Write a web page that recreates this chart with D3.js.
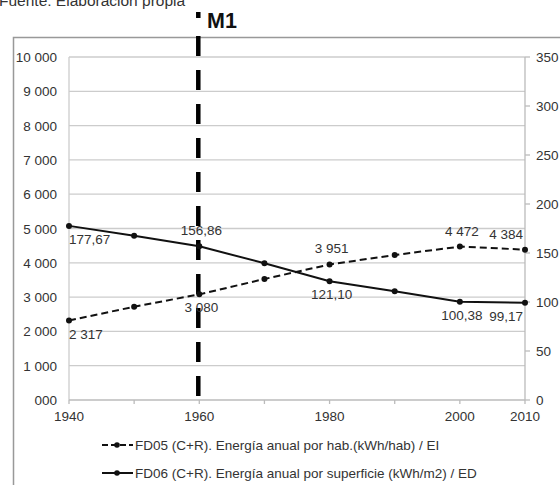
<!DOCTYPE html>
<html>
<head>
<meta charset="utf-8">
<script src="https://cdn.jsdelivr.net/npm/d3@7"></script>
<style>
	body{ margin:0; background:#fff; }
	svg text{ font-family:"Liberation Sans",Arial,sans-serif; }
</style>
</head>
<body>
<div id="chart"></div>
<script>
// data
var years = [1940,1950,1960,1970,1980,1990,2000,2010];
var fd05 = [2317,2720,3080,3528,3951,4227,4472,4384];
var fd06 = [177.67,167.6,156.86,139.5,121.10,110.9,100.38,99.17];
var fd05Labels = [[1940,'2 317','below'],[1960,'3 080','below'],[1980,'3 951','above'],[2000,'4 472','above'],[2010,'4 384','above']];
var fd06Labels = [[1940,'177,67','below'],[1960,'156,86','above'],[1980,'121,10','below'],[2000,'100,38','below'],[2010,'99,17','below']];
var leftTicks = [0,1000,2000,3000,4000,5000,6000,7000,8000,9000,10000];
var rightTicks = [0,50,100,150,200,250,300,350];
var xLabels = [1940,1960,1980,2000,2010];
var xMinor = [1950,1970,1990];
var markerYear = 1960;
var legendNames = [
	'FD05 (C+R). Energía anual por hab.(kWh/hab) / EI'
	,'FD06 (C+R). Energía anual por superficie (kWh/m2) / ED'
];

var W = 560, H = 485;
var FS = 13.5;
var svg = d3.select('#chart').append('svg')
	.attr('width',W)
	.attr('height',H);

var x = d3.scaleLinear().domain([1940,2010]).range([69,525]);
var yL = d3.scaleLinear().domain([0,10000]).range([400,57]);
var yR = d3.scaleLinear().domain([0,350]).range([400,57]);

function fmt(v){
	var s = String(v);
	if( v >= 1000 ) s = s.slice(0,s.length-3)+' '+s.slice(-3);
	if( v === 0 ) s = '000';
	return s;
};

// source line (cut at top, as in the picture)
svg.append('text')
	.attr('x',-1).attr('y',6)
	.attr('font-size',15.5).attr('fill','#333')
	.text('Fuente: Elaboración propia');

// frame
svg.append('path')
	.attr('d','M13.5,'+H+'V37.5H'+W)
	.attr('fill','none')
	.attr('stroke','#999')
	.attr('stroke-width',1.5);

// gridlines
svg.append('g').selectAll('line')
	.data(leftTicks.filter(function(d){ return d>0; }))
	.enter().append('line')
	.attr('x1',x(1940)).attr('x2',x(2010))
	.attr('y1',function(d){ return yL(d); })
	.attr('y2',function(d){ return yL(d); })
	.attr('stroke','#ccc').attr('stroke-width',1.3);

// axes lines
svg.append('line').attr('x1',x(1940)).attr('x2',x(1940)).attr('y1',yL(10000)).attr('y2',yL(0))
	.attr('stroke','#ccc').attr('stroke-width',1.3);
svg.append('line').attr('x1',x(2010)).attr('x2',x(2010)).attr('y1',yR(350)).attr('y2',yR(0))
	.attr('stroke','#bbb').attr('stroke-width',1.3);
svg.append('line').attr('x1',x(1940)).attr('x2',x(2010)).attr('y1',yL(0)).attr('y2',yL(0))
	.attr('stroke','#bbb').attr('stroke-width',1.3);

// left labels
svg.append('g').selectAll('text')
	.data(leftTicks)
	.enter().append('text')
	.attr('x',57)
	.attr('y',function(d){ return yL(d)+5; })
	.attr('text-anchor','end')
	.attr('font-size',FS).attr('fill','#333')
	.text(fmt);

// right ticks + labels
var rg = svg.append('g');
rg.selectAll('line').data(rightTicks).enter().append('line')
	.attr('x1',x(2010)).attr('x2',x(2010)+5)
	.attr('y1',function(d){ return yR(d); })
	.attr('y2',function(d){ return yR(d); })
	.attr('stroke','#bbb').attr('stroke-width',1.3);
rg.selectAll('text').data(rightTicks).enter().append('text')
	.attr('x',536)
	.attr('y',function(d){ return yR(d)+5; })
	.attr('font-size',FS).attr('fill','#333')
	.text(function(d){ return d; });

// x ticks
svg.append('g').selectAll('line')
	.data(xLabels.concat(xMinor))
	.enter().append('line')
	.attr('x1',function(d){ return x(d); })
	.attr('x2',function(d){ return x(d); })
	.attr('y1',yL(0)).attr('y2',yL(0)+4)
	.attr('stroke','#bbb').attr('stroke-width',1.3);
svg.append('g').selectAll('text')
	.data(xLabels)
	.enter().append('text')
	.attr('x',function(d){ return x(d); })
	.attr('y',yL(0)+21)
	.attr('text-anchor','middle')
	.attr('font-size',FS).attr('fill','#333')
	.text(function(d){ return d; });

// M1 marker line
svg.append('line')
	.attr('x1',x(markerYear)-1).attr('x2',x(markerYear)-1)
	.attr('y1',12).attr('y2',yL(0))
	.attr('stroke','#000').attr('stroke-width',4.5)
	.attr('stroke-dasharray','6,18,20,14,20,14,20,14,20,14,20,14,20,14,20,14,20,14,20,14,20,14,20,14');
svg.append('text')
	.attr('x',207).attr('y',28)
	.attr('font-size',21.5).attr('font-weight','bold').attr('fill','#111')
	.text('M1');

// series
var line05 = d3.line()
	.x(function(d,i){ return x(years[i]); })
	.y(function(d){ return yL(d); });
var line06 = d3.line()
	.x(function(d,i){ return x(years[i]); })
	.y(function(d){ return yR(d); });

svg.append('path').datum(fd05)
	.attr('d',line05)
	.attr('fill','none').attr('stroke','#111').attr('stroke-width',2)
	.attr('stroke-dasharray','7,4');
svg.append('path').datum(fd06)
	.attr('d',line06)
	.attr('fill','none').attr('stroke','#111').attr('stroke-width',2);

svg.append('g').selectAll('circle').data(fd05).enter().append('circle')
	.attr('cx',function(d,i){ return x(years[i]); })
	.attr('cy',function(d){ return yL(d); })
	.attr('r',3).attr('fill','#111');
svg.append('g').selectAll('circle').data(fd06).enter().append('circle')
	.attr('cx',function(d,i){ return x(years[i]); })
	.attr('cy',function(d){ return yR(d); })
	.attr('r',3).attr('fill','#111');

// data labels
function addLabels(list, values, yScale){
	svg.append('g').selectAll('text').data(list).enter().append('text')
		.attr('x',function(d){
			var px = x(d[0]);
			if( d[0] === 1940 ) return px;
			if( d[0] === 2010 ) return px-2;
			return px+2;
		})
		.attr('y',function(d){
			var v = values[years.indexOf(d[0])];
			return d[2]==='above' ? yScale(v)-11 : yScale(v)+18;
		})
		.attr('text-anchor',function(d){
			if( d[0] === 1940 ) return 'start';
			if( d[0] === 2010 ) return 'end';
			return 'middle';
		})
		.attr('font-size',FS).attr('fill','#333')
		.text(function(d){ return d[1]; });
};
addLabels(fd05Labels, fd05, yL);
addLabels(fd06Labels, fd06, yR);

// legend
var lg = svg.append('g');
[0,1].forEach(function(i){
	var ly = 445 + i*28;
	lg.append('line')
		.attr('x1',102).attr('x2',133).attr('y1',ly).attr('y2',ly)
		.attr('stroke','#111').attr('stroke-width',2)
		.attr('stroke-dasharray', i===0 ? '6,3' : null);
	lg.append('circle').attr('cx',117).attr('cy',ly).attr('r',2.8).attr('fill','#111');
	lg.append('text')
		.attr('x',135).attr('y',ly+5)
		.attr('font-size',FS).attr('fill','#333')
		.text(legendNames[i]);
});
</script>
</body>
</html>
